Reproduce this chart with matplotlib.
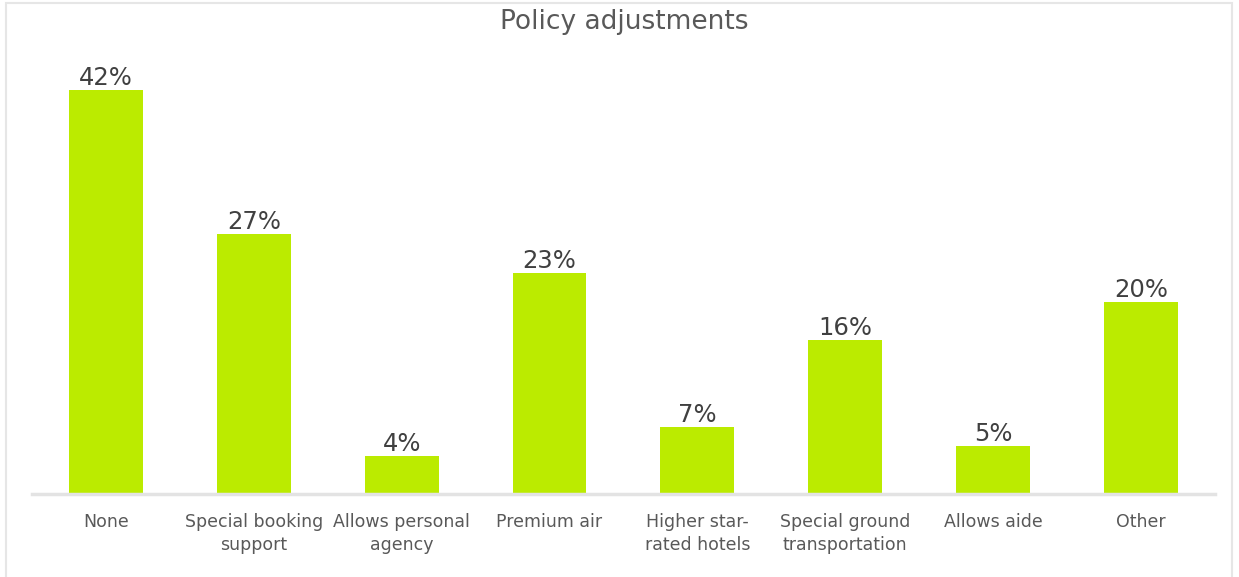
import matplotlib.pyplot as plt
from matplotlib.patches import Rectangle

categories = ["None", "Special booking\nsupport", "Allows personal\nagency", "Premium air",
              "Higher star-\nrated hotels", "Special ground\ntransportation", "Allows aide", "Other"]
shares = [42, 27, 4, 23, 7, 16, 5, 20]

bar_color = "#bbeb00"
text_gray = "#595959"

fig = plt.figure(figsize=(12.39, 5.77), dpi=100)
ax = fig.add_axes([0.0258, 0.1438, 0.9548, 0.75])

# thin frame around the whole chart
fig.patches.append(Rectangle((6 / 1239, -0.01), 1226 / 1239, 1 - 3 / 577 + 0.01,
                             transform=fig.transFigure, fill=False,
                             edgecolor="#e6e6e6", linewidth=1.5))

x = list(range(len(categories)))
bars = ax.bar(x, shares, width=0.5, color=bar_color, zorder=2)
for b, v in zip(bars, shares):
    ax.annotate(f"{v}%", (b.get_x() + b.get_width() / 2, v), xytext=(0, 0),
                textcoords="offset points", ha="center", va="bottom",
                fontsize=17.5, color="#404040")

ax.set_xlim(-0.5, len(categories) - 0.5)
ax.set_ylim(0, 45)
ax.set_xticks(x)
ax.set_xticklabels(categories, fontsize=12.5, color=text_gray, linespacing=1.35)
ax.tick_params(axis="x", length=0, pad=14)
ax.set_yticks([])
for s in ["top", "right", "left"]:
    ax.spines[s].set_visible(False)
ax.spines["bottom"].set_color("#e3e3e3")
ax.spines["bottom"].set_linewidth(2.5)

fig.text(0.504, 0.962, "Policy adjustments", ha="center", va="center",
         fontsize=19, color=text_gray)

fig.savefig("out.png", dpi=100)
